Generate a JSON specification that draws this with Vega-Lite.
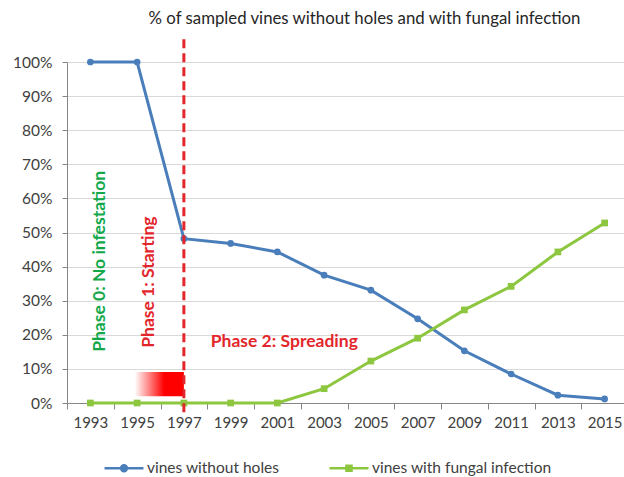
{
  "$schema": "https://vega.github.io/schema/vega-lite/v6.json",
  "width": 561,
  "height": 341,
  "autosize": "none",
  "padding": {"left": 67, "top": 62, "right": 0, "bottom": 74},
  "background": "#ffffff",
  "config": {
    "font": "Lato",
    "view": {"stroke": null},
    "axisX": {
      "title": null,
      "labelOverlap": false,
      "labelFlush": false,
      "labelBound": false,
      "grid": false,
      "tickSize": 6,
      "tickColor": "#868686",
      "domainColor": "#868686",
      "labelFontSize": 15,
      "labelColor": "#404040",
      "labelPadding": 6
    },
    "axisY": {
      "title": null,
      "format": ".0%",
      "labelOverlap": false,
      "grid": true,
      "gridColor": "#d9d9d9",
      "tickSize": 5,
      "tickColor": "#868686",
      "domainColor": "#868686",
      "labelFontSize": 15.5,
      "labelColor": "#404040",
      "labelPadding": 10
    }
  },
  "title": {
    "text": "% of sampled vines without holes and with fungal infection",
    "fontSize": 16.8,
    "fontWeight": "normal",
    "color": "#262626",
    "anchor": "middle",
    "offset": 9,
    "dx": 17
  },
  "datasets": {
    "series": [
      {"year": 1993, "value": 1.0, "series": "vines without holes"},
      {"year": 1995, "value": 1.0, "series": "vines without holes"},
      {"year": 1997, "value": 0.482, "series": "vines without holes"},
      {"year": 1999, "value": 0.468, "series": "vines without holes"},
      {"year": 2001, "value": 0.443, "series": "vines without holes"},
      {"year": 2003, "value": 0.375, "series": "vines without holes"},
      {"year": 2005, "value": 0.331, "series": "vines without holes"},
      {"year": 2007, "value": 0.247, "series": "vines without holes"},
      {"year": 2009, "value": 0.153, "series": "vines without holes"},
      {"year": 2011, "value": 0.085, "series": "vines without holes"},
      {"year": 2013, "value": 0.023, "series": "vines without holes"},
      {"year": 2015, "value": 0.012, "series": "vines without holes"},
      {"year": 1993, "value": 0.0, "series": "vines with fungal infection"},
      {"year": 1995, "value": 0.0, "series": "vines with fungal infection"},
      {"year": 1997, "value": 0.0, "series": "vines with fungal infection"},
      {"year": 1999, "value": 0.0, "series": "vines with fungal infection"},
      {"year": 2001, "value": 0.0, "series": "vines with fungal infection"},
      {"year": 2003, "value": 0.042, "series": "vines with fungal infection"},
      {"year": 2005, "value": 0.123, "series": "vines with fungal infection"},
      {"year": 2007, "value": 0.19, "series": "vines with fungal infection"},
      {"year": 2009, "value": 0.273, "series": "vines with fungal infection"},
      {"year": 2011, "value": 0.342, "series": "vines with fungal infection"},
      {"year": 2013, "value": 0.443, "series": "vines with fungal infection"},
      {"year": 2015, "value": 0.528, "series": "vines with fungal infection"}
    ],
    "marker": [{"year": 1997, "lo": -0.027, "hi": 1.07}],
    "ramp": [{"x0": 1994.9, "x1": 1997, "y0": 0.02, "y1": 0.091}],
    "phase0": [{"year": 1993.4, "value": 0.15, "label": "Phase 0: No infestation"}],
    "phase1": [{"year": 1995.5, "value": 0.162, "label": "Phase 1: Starting"}],
    "phase2": [{"year": 1998.15, "value": 0.179, "label": "Phase 2: Spreading"}]
  },
  "layer": [
    {
      "data": {"name": "series"},
      "mark": {"type": "line", "strokeWidth": 3},
      "encoding": {
        "x": {
          "field": "year",
          "type": "quantitative",
          "scale": {"domain": [1992, 2016], "nice": false, "zero": false},
          "axis": {
            "values": [1993,1995,1997,1999,2001,2003,2005,2007,2009,2011,2013,2015],
            "format": "d",
            "tickOffset": -23.375,
            "labelOffset": 23.375
          }
        },
        "y": {
          "field": "value",
          "type": "quantitative",
          "scale": {"domain": [0, 1], "nice": false}
        },
        "color": {
          "field": "series",
          "type": "nominal",
          "scale": {
            "domain": ["vines without holes", "vines with fungal infection"],
            "range": ["#4A7EBB", "#8DC63F"]
          },
          "legend": {
            "title": null,
            "orient": "none",
            "direction": "horizontal",
            "legendX": 36,
            "legendY": 385,
            "labelFontSize": 15.5,
            "labelColor": "#404040",
            "labelLimit": 400,
            "labelOffset": 2,
            "columnPadding": 44,
            "symbolSize": 1521,
            "symbolStrokeWidth": 2.5,
            "symbolType": "M-1,0H1M-0.15,0A0.15,0.15 0 1,0 0.15,0A0.15,0.15 0 1,0 -0.15,0Z",
            "encode": {
              "symbols": {
                "update": {
                  "shape": {"signal": "datum.value === 'vines without holes' ? 'M-1,0H1M-0.15,0A0.15,0.15 0 1,0 0.15,0A0.15,0.15 0 1,0 -0.15,0Z' : 'M-1,0H1M-0.13,-0.13H0.13V0.13H-0.13Z'"},
                  "stroke": {"scale": "color", "field": "value"},
                  "fill": {"scale": "color", "field": "value"},
                  "strokeWidth": {"value": 2.5},
                  "opacity": {"value": 1}
                }
              }
            }
          }
        }
      }
    },
    {
      "data": {"name": "series"},
      "transform": [{"filter": "datum.series === 'vines without holes'"}],
      "mark": {"type": "point", "filled": true, "size": 45, "opacity": 1, "shape": "circle"},
      "encoding": {
        "x": {"field": "year", "type": "quantitative"},
        "y": {"field": "value", "type": "quantitative", "scale": {"domain": [0, 1], "nice": false}},
        "color": {"field": "series", "type": "nominal"}
      }
    },
    {
      "data": {"name": "series"},
      "transform": [{"filter": "datum.series === 'vines with fungal infection'"}],
      "mark": {"type": "point", "filled": true, "size": 45, "opacity": 1, "shape": "square"},
      "encoding": {
        "x": {"field": "year", "type": "quantitative"},
        "y": {"field": "value", "type": "quantitative", "scale": {"domain": [0, 1], "nice": false}},
        "color": {"field": "series", "type": "nominal"}
      }
    },
    {
      "data": {"name": "ramp"},
      "mark": {
        "type": "rect",
        "fill": {
          "gradient": "linear",
          "x1": 0, "y1": 0, "x2": 1, "y2": 0,
          "stops": [
            {"offset": 0, "color": "#ffffff"},
            {"offset": 0.6, "color": "#ff0000"},
            {"offset": 1, "color": "#ff0000"}
          ]
        },
        "stroke": null
      },
      "encoding": {
        "x": {"field": "x0", "type": "quantitative"},
        "x2": {"field": "x1"},
        "y": {"field": "y0", "type": "quantitative", "scale": {"domain": [0, 1], "nice": false}},
        "y2": {"field": "y1"}
      }
    },
    {
      "data": {"name": "marker"},
      "mark": {"type": "rule", "color": "#E3262B", "strokeWidth": 3, "strokeDash": [9, 5]},
      "encoding": {
        "x": {"field": "year", "type": "quantitative"},
        "y": {"field": "lo", "type": "quantitative", "scale": {"domain": [0, 1], "nice": false}},
        "y2": {"field": "hi"}
      }
    },
    {
      "data": {"name": "phase0"},
      "mark": {"type": "text", "angle": 270, "align": "left", "baseline": "middle", "fontSize": 17.5, "fontWeight": "bold", "color": "#12A84A"},
      "encoding": {
        "x": {"field": "year", "type": "quantitative"},
        "y": {"field": "value", "type": "quantitative", "scale": {"domain": [0, 1], "nice": false}},
        "text": {"field": "label"}
      }
    },
    {
      "data": {"name": "phase1"},
      "mark": {"type": "text", "angle": 270, "align": "left", "baseline": "middle", "fontSize": 17.5, "fontWeight": "bold", "color": "#E3262B"},
      "encoding": {
        "x": {"field": "year", "type": "quantitative"},
        "y": {"field": "value", "type": "quantitative", "scale": {"domain": [0, 1], "nice": false}},
        "text": {"field": "label"}
      }
    },
    {
      "data": {"name": "phase2"},
      "mark": {"type": "text", "align": "left", "baseline": "middle", "fontSize": 17.5, "fontWeight": "bold", "color": "#E3262B"},
      "encoding": {
        "x": {"field": "year", "type": "quantitative"},
        "y": {"field": "value", "type": "quantitative", "scale": {"domain": [0, 1], "nice": false}},
        "text": {"field": "label"}
      }
    }
  ]
}
